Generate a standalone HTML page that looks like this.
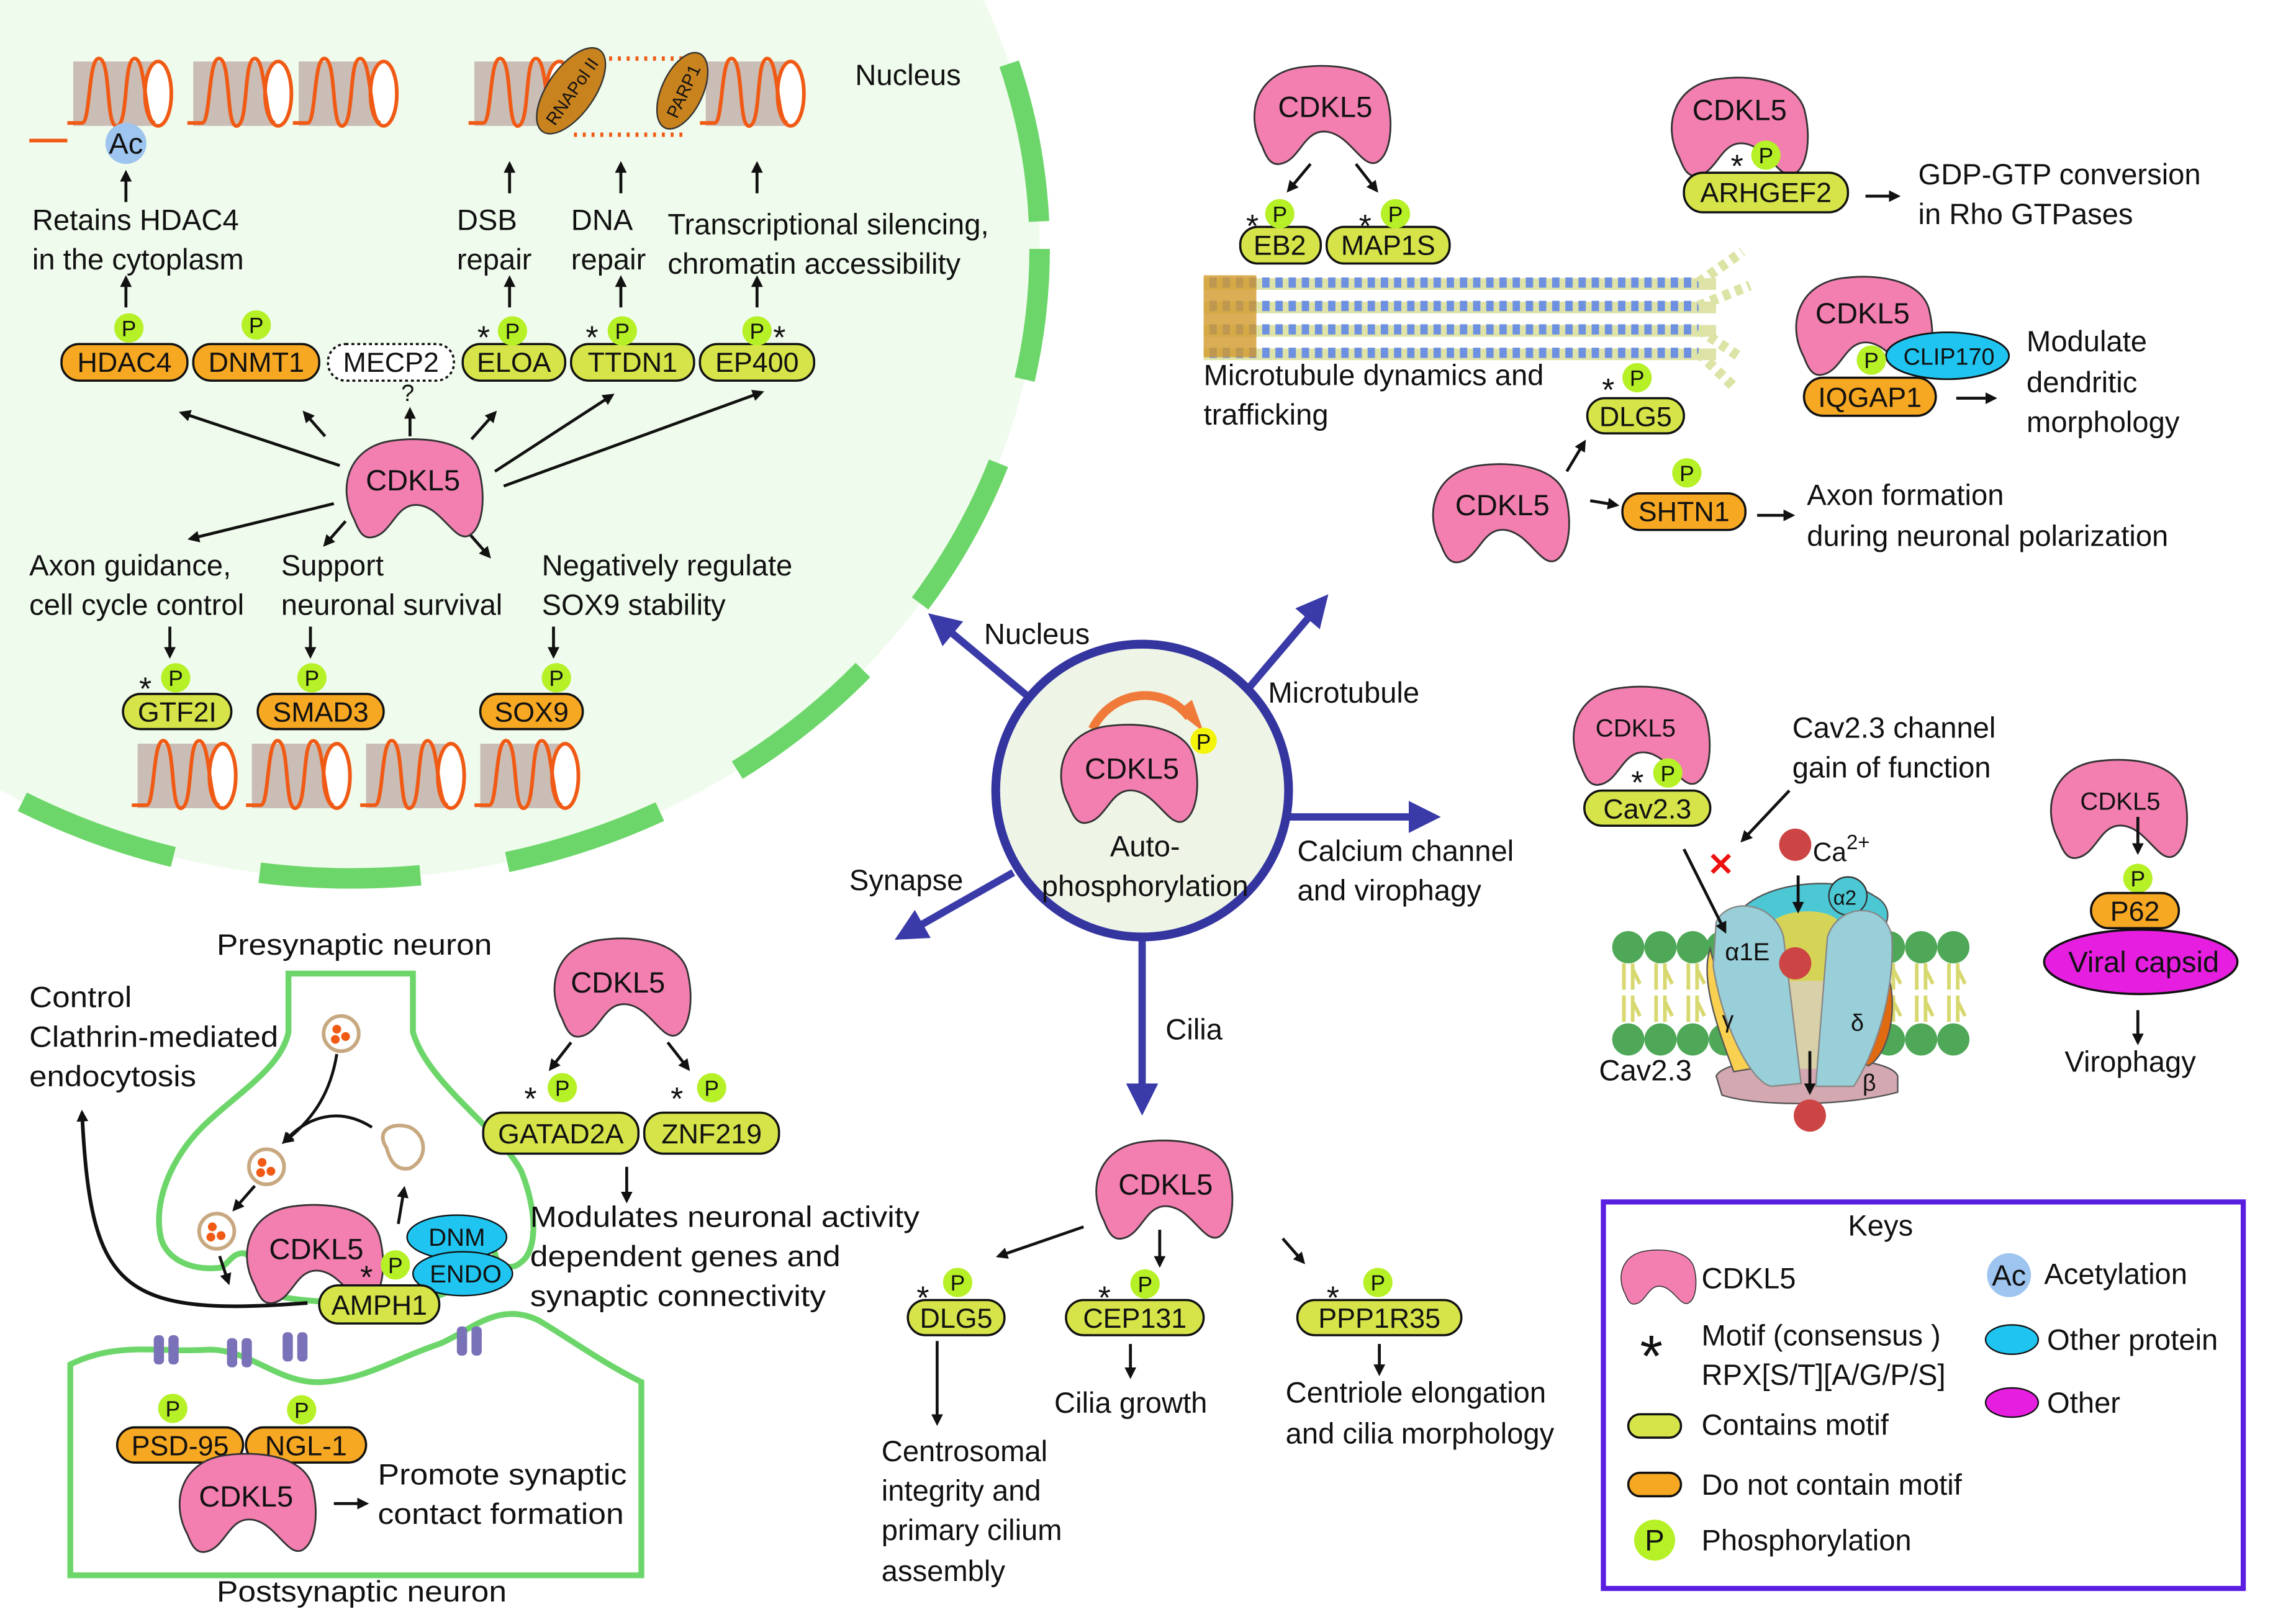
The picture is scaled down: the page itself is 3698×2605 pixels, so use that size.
<!DOCTYPE html>
<html><head><meta charset="utf-8">
<style>
html,body{margin:0;padding:0;background:#fff;}
svg{display:block;}
text{font-family:"Liberation Sans",Arial,sans-serif;fill:#111;}
.t{font-size:20px;}
.pl{font-size:19px;}
.pt{font-size:15px;}
</style></head>
<body>
<svg width="3698" height="2605" viewBox="0 0 1568 1104.5" preserveAspectRatio="none" xmlns="http://www.w3.org/2000/svg">
<defs>
<marker id="ah" markerWidth="8" markerHeight="8" refX="6" refY="4" orient="auto" markerUnits="userSpaceOnUse"><path d="M0,0 L8,4 L0,8 Z" fill="#111"/></marker>
<marker id="bh" markerWidth="22" markerHeight="22" refX="14" refY="11" orient="auto" markerUnits="userSpaceOnUse"><path d="M0,0 L22,11 L0,22 Z" fill="#3a3aa8"/></marker>
<path id="blob" d="M-40,22 C-52,0 -44,-28 -14,-32 C8,-35 38,-32 45,-12 C50,6 48,28 38,33 C28,37 20,14 4,12 C-12,10 -14,32 -28,34 C-34,35 -37,30 -40,22Z" fill="#f27fb0" stroke="#333" stroke-width="1.2"/>
<g id="nuc">
<rect x="4" y="6" width="58" height="44" fill="#c9bdb6"/>
<ellipse cx="62" cy="28" rx="9" ry="22" fill="#fff" stroke="#f05a14" stroke-width="2.5"/>
<path d="M0,48 L10,48 C16,48 14,2 22,4 C30,6 26,52 34,50 C42,48 38,4 46,4 C54,4 52,48 60,48" fill="none" stroke="#f05a14" stroke-width="2.5"/>
</g>
<g id="P"><circle r="10" fill="#b6f026"/><text x="0" y="5.5" text-anchor="middle" class="pt">P</text></g>
<g id="lip"><path d="M-3,0 v18 M3,0 v18 M3,4 l5,10" stroke="#d8d870" stroke-width="2.5" fill="none"/></g>
</defs>

<!-- Nucleus -->
<ellipse cx="240" cy="170" rx="470" ry="430" fill="#effbec"/>
<ellipse cx="240" cy="170" rx="470" ry="430" fill="none" stroke="#6dd66a" stroke-width="14" stroke-dasharray="110 60" stroke-dashoffset="20"/>
<text x="584" y="58" class="t">Nucleus</text>

<use href="#nuc" x="46" y="36"/><use href="#nuc" x="128" y="36"/><use href="#nuc" x="200" y="36"/>
<path d="M20,96 L46,96" stroke="#f05a14" stroke-width="2.5"/>
<use href="#nuc" x="320" y="36"/><use href="#nuc" x="478" y="36"/>
<path d="M392,40 L470,40 M392,92 L470,92" stroke="#f05a14" stroke-width="3" stroke-dasharray="2 4"/>
<g transform="translate(390,62) rotate(-55)"><ellipse rx="34" ry="16" fill="#c8821e" stroke="#333"/><text x="0" y="5" text-anchor="middle" style="font-size:12px">RNAPol II</text></g>
<g transform="translate(466,62) rotate(-65)"><ellipse rx="28" ry="14" fill="#c8821e" stroke="#333"/><text x="0" y="5" text-anchor="middle" style="font-size:12px">PARP1</text></g>
<circle cx="86" cy="98" r="14" fill="#9ec5f0"/><text x="86" y="105" text-anchor="middle" class="t">Ac</text>

<g stroke="#111" stroke-width="2" marker-end="url(#ah)">
<line x1="86" y1="138" x2="86" y2="118"/>
<line x1="86" y1="210" x2="86" y2="190"/>
<line x1="348" y1="132" x2="348" y2="112"/>
<line x1="424" y1="132" x2="424" y2="112"/>
<line x1="517" y1="132" x2="517" y2="112"/>
<line x1="348" y1="210" x2="348" y2="190"/>
<line x1="424" y1="210" x2="424" y2="190"/>
<line x1="517" y1="210" x2="517" y2="190"/>
<line x1="280" y1="298" x2="280" y2="280"/>
<line x1="232" y1="318" x2="124" y2="282"/>
<line x1="222" y1="298" x2="208" y2="282"/>
<line x1="322" y1="300" x2="338" y2="282"/>
<line x1="338" y1="322" x2="418" y2="270"/>
<line x1="344" y1="332" x2="520" y2="268"/>
<line x1="228" y1="344" x2="130" y2="368"/>
<line x1="236" y1="356" x2="222" y2="372"/>
<line x1="320" y1="364" x2="334" y2="380"/>
<line x1="116" y1="428" x2="116" y2="448"/>
<line x1="212" y1="428" x2="212" y2="448"/>
<line x1="378" y1="428" x2="378" y2="448"/>
</g>
<text x="22" y="157" class="t">Retains HDAC4</text><text x="22" y="184" class="t">in the cytoplasm</text>
<text x="312" y="157" class="t">DSB</text><text x="312" y="184" class="t">repair</text>
<text x="390" y="157" class="t">DNA</text><text x="390" y="184" class="t">repair</text>
<text x="456" y="160" class="t">Transcriptional silencing,</text><text x="456" y="187" class="t">chromatin accessibility</text>

<rect x="42" y="235" width="86" height="25" rx="12" fill="#f7a823" stroke="#111" stroke-width="1.5"/><text x="85" y="254" text-anchor="middle" class="pl">HDAC4</text>
<rect x="132" y="235" width="86" height="25" rx="12" fill="#f7a823" stroke="#111" stroke-width="1.5"/><text x="175" y="254" text-anchor="middle" class="pl">DNMT1</text>
<rect x="224" y="235" width="86" height="25" rx="12" fill="#fff" stroke="#111" stroke-width="1.5" stroke-dasharray="2 2"/><text x="267" y="254" text-anchor="middle" class="pl">MECP2</text>
<rect x="316" y="235" width="70" height="25" rx="12" fill="#d6e44a" stroke="#111" stroke-width="1.5"/><text x="351" y="254" text-anchor="middle" class="pl">ELOA</text>
<rect x="390" y="235" width="84" height="25" rx="12" fill="#d6e44a" stroke="#111" stroke-width="1.5"/><text x="432" y="254" text-anchor="middle" class="pl">TTDN1</text>
<rect x="478" y="235" width="78" height="25" rx="12" fill="#d6e44a" stroke="#111" stroke-width="1.5"/><text x="517" y="254" text-anchor="middle" class="pl">EP400</text>
<use href="#P" x="88" y="224"/><use href="#P" x="175" y="222"/><use href="#P" x="350" y="226"/><use href="#P" x="425" y="226"/><use href="#P" x="517" y="226"/>
<text x="326" y="238" style="font-size:22px">*</text><text x="400" y="238" style="font-size:22px">*</text><text x="528" y="238" style="font-size:22px">*</text>
<text x="274" y="274" style="font-size:16px">?</text>
<use href="#blob" x="282" y="333"/><text x="282" y="335" text-anchor="middle" class="t">CDKL5</text>

<text x="20" y="393" class="t">Axon guidance,</text><text x="20" y="420" class="t">cell cycle control</text>
<text x="192" y="393" class="t">Support</text><text x="192" y="420" class="t">neuronal survival</text>
<text x="370" y="393" class="t">Negatively regulate</text><text x="370" y="420" class="t">SOX9 stability</text>
<rect x="84" y="474" width="74" height="24" rx="12" fill="#d6e44a" stroke="#111" stroke-width="1.5"/><text x="121" y="493" text-anchor="middle" class="pl">GTF2I</text>
<rect x="176" y="474" width="86" height="24" rx="12" fill="#f7a823" stroke="#111" stroke-width="1.5"/><text x="219" y="493" text-anchor="middle" class="pl">SMAD3</text>
<rect x="328" y="474" width="70" height="24" rx="12" fill="#f7a823" stroke="#111" stroke-width="1.5"/><text x="363" y="493" text-anchor="middle" class="pl">SOX9</text>
<use href="#P" x="120" y="463"/><use href="#P" x="213" y="463"/><use href="#P" x="380" y="463"/><text x="95" y="478" style="font-size:22px">*</text>
<use href="#nuc" x="90" y="502"/><use href="#nuc" x="168" y="502"/><use href="#nuc" x="246" y="502"/><use href="#nuc" x="324" y="502"/>

<!-- Center -->
<g stroke="#3a3aa8" stroke-width="5" marker-end="url(#bh)">
<line x1="712" y1="484" x2="640" y2="424"/>
<line x1="846" y1="478" x2="902" y2="412"/>
<line x1="880" y1="558" x2="976" y2="558"/>
<line x1="692" y1="596" x2="618" y2="638"/>
<line x1="780" y1="640" x2="780" y2="754"/>
</g>
<circle cx="780" cy="540" r="100" fill="#eef5e6" stroke="#3535a0" stroke-width="6"/>
<path d="M746,498 C760,470 796,468 812,490" fill="none" stroke="#f07a3a" stroke-width="6"/>
<path d="M804,486 L822,500 L814,478Z" fill="#f07a3a"/>
<use href="#blob" x="770" y="528"/><text x="773" y="532" text-anchor="middle" class="t">CDKL5</text>
<circle cx="822" cy="506" r="9" fill="#f4f40a"/><text x="822" y="512" text-anchor="middle" class="pt">P</text>
<text x="782" y="585" text-anchor="middle" class="t">Auto-</text><text x="782" y="612" text-anchor="middle" class="t">phosphorylation</text>
<text x="672" y="440" class="t">Nucleus</text><text x="866" y="480" class="t">Microtubule</text>
<text x="886" y="588" class="t">Calcium channel</text><text x="886" y="615" class="t">and virophagy</text>
<text x="580" y="608" class="t">Synapse</text><text x="796" y="710" class="t">Cilia</text>

<!-- Microtubule -->
<path d="M822,190 h350 v8 h-350z M822,206 h350 v8 h-350z M822,222 h350 v8 h-350z M822,238 h350 v8 h-350z" fill="#dfe3a8"/>
<g stroke-dasharray="5 4" stroke-width="7" fill="none">
<path d="M826,193 H1160 M826,209 H1160 M826,225 H1160 M826,241 H1160" stroke="#6d90e0"/>
<path d="M1160,193 L1190,172 M1160,209 L1195,195 M1160,225 L1190,245 M1160,241 L1185,265" stroke="#dde3a5"/>
</g>
<rect x="822" y="188" width="36" height="56" fill="#d29a2c" opacity="0.8"/>
<use href="#blob" x="902" y="78"/><text x="905" y="80" text-anchor="middle" class="t">CDKL5</text>
<g stroke="#111" stroke-width="2" marker-end="url(#ah)">
<line x1="895" y1="112" x2="880" y2="130"/><line x1="926" y1="112" x2="940" y2="130"/>
<line x1="1274" y1="134" x2="1296" y2="134"/>
<line x1="1070" y1="322" x2="1082" y2="302"/>
<line x1="1086" y1="342" x2="1104" y2="345"/>
<line x1="1200" y1="352" x2="1224" y2="352"/>
<line x1="1336" y1="272" x2="1362" y2="272"/>
</g>
<rect x="847" y="155" width="55" height="25" rx="12" fill="#d6e44a" stroke="#111" stroke-width="1.5"/><text x="874" y="174" text-anchor="middle" class="pl">EB2</text>
<rect x="906" y="155" width="84" height="25" rx="12" fill="#d6e44a" stroke="#111" stroke-width="1.5"/><text x="948" y="174" text-anchor="middle" class="pl">MAP1S</text>
<use href="#P" x="874" y="146"/><use href="#P" x="953" y="146"/><text x="851" y="162" style="font-size:22px">*</text><text x="928" y="162" style="font-size:22px">*</text>
<text x="822" y="263" class="t">Microtubule dynamics and</text><text x="822" y="290" class="t">trafficking</text>
<rect x="1084" y="272" width="66" height="24" rx="12" fill="#d6e44a" stroke="#111" stroke-width="1.5"/><text x="1117" y="291" text-anchor="middle" class="pl">DLG5</text>
<use href="#P" x="1118" y="258"/><text x="1094" y="274" style="font-size:22px">*</text>
<use href="#blob" x="1024" y="350"/><text x="1026" y="352" text-anchor="middle" class="t">CDKL5</text>
<rect x="1108" y="337" width="84" height="25" rx="12" fill="#f7a823" stroke="#111" stroke-width="1.5"/><text x="1150" y="356" text-anchor="middle" class="pl">SHTN1</text>
<use href="#P" x="1152" y="323"/>
<text x="1234" y="345" class="t">Axon formation</text><text x="1234" y="373" class="t">during neuronal polarization</text>
<use href="#blob" x="1187" y="86"/><text x="1188" y="82" text-anchor="middle" class="t">CDKL5</text>
<rect x="1150" y="118" width="112" height="27" rx="13" fill="#d6e44a" stroke="#111" stroke-width="1.5"/><text x="1206" y="138" text-anchor="middle" class="pl">ARHGEF2</text>
<use href="#P" x="1206" y="106"/><text x="1182" y="121" style="font-size:22px">*</text>
<text x="1310" y="126" class="t">GDP-GTP conversion</text><text x="1310" y="153" class="t">in Rho GTPases</text>
<use href="#blob" x="1272" y="222"/><text x="1272" y="221" text-anchor="middle" class="t">CDKL5</text>
<ellipse cx="1330" cy="243" rx="42" ry="16" fill="#1fc4f0" stroke="#111" stroke-width="1.2"/><text x="1331" y="249" text-anchor="middle" style="font-size:16px">CLIP170</text>
<rect x="1232" y="258" width="90" height="26" rx="13" fill="#f7a823" stroke="#111" stroke-width="1.5"/><text x="1277" y="278" text-anchor="middle" class="pl">IQGAP1</text>
<use href="#P" x="1278" y="246"/>
<text x="1384" y="240" class="t">Modulate</text><text x="1384" y="268" class="t">dendritic</text><text x="1384" y="295" class="t">morphology</text>

<!-- Calcium -->
<use href="#blob" x="1120" y="502"/><text x="1117" y="503" text-anchor="middle" style="font-size:17px">CDKL5</text>
<rect x="1082" y="540" width="86" height="24" rx="12" fill="#d6e44a" stroke="#111" stroke-width="1.5"/><text x="1125" y="559" text-anchor="middle" class="pl">Cav2.3</text>
<use href="#P" x="1139" y="528"/><text x="1114" y="542" style="font-size:22px">*</text>
<text x="1224" y="504" class="t">Cav2.3 channel</text><text x="1224" y="531" class="t">gain of function</text>
<circle cx="1226" cy="577" r="11" fill="#cc4444"/><text x="1238" y="588" style="font-size:18px">Ca</text><text x="1261" y="580" style="font-size:14px">2+</text>
<g fill="#4fa858">
<circle cx="1112" cy="647" r="11"/><circle cx="1134" cy="647" r="11"/><circle cx="1156" cy="647" r="11"/><circle cx="1176" cy="647" r="11"/>
<circle cx="1290" cy="647" r="11"/><circle cx="1312" cy="647" r="11"/><circle cx="1334" cy="647" r="11"/>
<circle cx="1112" cy="710" r="11"/><circle cx="1134" cy="710" r="11"/><circle cx="1156" cy="710" r="11"/><circle cx="1178" cy="710" r="11"/>
<circle cx="1290" cy="710" r="11"/><circle cx="1312" cy="710" r="11"/><circle cx="1334" cy="710" r="11"/>
</g>
<use href="#lip" x="1112" y="658"/><use href="#lip" x="1134" y="658"/><use href="#lip" x="1156" y="658"/>
<use href="#lip" x="1290" y="658"/><use href="#lip" x="1312" y="658"/><use href="#lip" x="1334" y="658"/>
<use href="#lip" x="1112" y="680"/><use href="#lip" x="1134" y="680"/><use href="#lip" x="1156" y="680"/>
<use href="#lip" x="1290" y="680"/><use href="#lip" x="1312" y="680"/><use href="#lip" x="1334" y="680"/>
<path d="M1172,735 C1180,718 1290,718 1296,735 L1296,746 C1260,756 1200,756 1176,748Z" fill="#d4a8b0" stroke="#555"/>
<text x="1272" y="745" style="font-size:16px">β</text>
<path d="M1184,628 C1200,600 1260,598 1280,612 C1296,620 1290,640 1270,642 L1196,642Z" fill="#4cc8d4" stroke="#555"/>
<circle cx="1262" cy="612" r="13" fill="#4cc8d4" stroke="#333"/><text x="1252" y="618" style="font-size:14px">α2</text>
<path d="M1210,630 C1220,620 1250,620 1256,630 L1256,720 L1210,720Z" fill="#d6d456"/>
<path d="M1214,670 L1252,670 L1250,730 L1216,730Z" fill="#d8d0a8"/>
<path d="M1168,648 C1170,660 1190,710 1196,730 L1184,732 C1176,710 1160,670 1168,648Z" fill="#f9d050" stroke="#555"/>
<path d="M1290,668 C1296,690 1290,720 1276,728 L1268,724 C1270,700 1280,680 1290,668Z" fill="#e06a10" stroke="#555"/>
<path d="M1172,630 C1180,612 1212,616 1218,640 L1230,740 L1210,742 C1196,740 1176,700 1170,660Z" fill="#98cfd8" stroke="#888"/>
<path d="M1248,640 C1256,616 1288,616 1292,640 C1294,680 1280,720 1266,742 L1240,742 Z" fill="#98cfd8" stroke="#888"/>
<circle cx="1226" cy="658" r="11" fill="#cc4444"/><circle cx="1236" cy="762" r="11" fill="#cc4444"/>
<text x="1178" y="656" style="font-size:17px">α1E</text><text x="1176" y="702" style="font-size:16px">γ</text><text x="1264" y="704" style="font-size:16px">δ</text>
<g stroke="#111" stroke-width="2" marker-end="url(#ah)">
<line x1="1222" y1="540" x2="1190" y2="574"/>
<line x1="1150" y1="580" x2="1178" y2="636"/>
<line x1="1228" y1="598" x2="1228" y2="622"/>
<line x1="1236" y1="718" x2="1236" y2="746"/>
</g>
<text x="1166" y="598" style="font-size:22px;fill:#ee1111;font-weight:bold">✕</text>
<text x="1092" y="738" class="t">Cav2.3</text>
<use href="#blob" x="1446" y="552"/><text x="1448" y="553" text-anchor="middle" style="font-size:17px">CDKL5</text>
<line x1="1460" y1="558" x2="1460" y2="582" stroke="#111" stroke-width="2" marker-end="url(#ah)"/>
<use href="#P" x="1460" y="600"/>
<rect x="1428" y="610" width="60" height="24" rx="12" fill="#f7a823" stroke="#111" stroke-width="1.5"/><text x="1458" y="629" text-anchor="middle" class="pl">P62</text>
<ellipse cx="1462" cy="657" rx="66" ry="22" fill="#e51ee0" stroke="#111" stroke-width="1.5"/><text x="1464" y="664" text-anchor="middle" class="t">Viral capsid</text>
<line x1="1460" y1="690" x2="1460" y2="712" stroke="#111" stroke-width="2" marker-end="url(#ah)"/>
<text x="1410" y="732" class="t">Virophagy</text>

<!-- Synapse -->
<text x="148" y="652" class="t" textLength="188" lengthAdjust="spacingAndGlyphs">Presynaptic neuron</text>
<path d="M197,665 L282,665 L282,705 C292,740 340,770 356,800 C368,830 366,855 356,862 C350,868 340,866 338,856 C336,846 326,846 324,856 C322,880 300,890 262,890 C220,890 186,888 178,880 C170,872 176,858 166,856 C158,856 156,864 150,866 C130,868 114,860 110,846 C104,820 118,790 138,770 C160,748 192,730 197,705Z" fill="none" stroke="#6dd66a" stroke-width="4"/>
<path d="M48,932 L48,1076 L438,1076 L438,944 C410,930 390,915 368,902 C340,888 320,910 300,918 C270,928 250,942 220,944 C190,946 170,920 140,922 C110,924 80,916 48,932Z" fill="none" stroke="#6dd66a" stroke-width="4"/>
<g fill="#7a72b8"><rect x="105" y="912" width="7" height="20" rx="3"/><rect x="115" y="912" width="7" height="20" rx="3"/><rect x="155" y="914" width="7" height="20" rx="3"/><rect x="165" y="914" width="7" height="20" rx="3"/><rect x="193" y="910" width="7" height="20" rx="3"/><rect x="203" y="910" width="7" height="20" rx="3"/><rect x="312" y="906" width="7" height="20" rx="3"/><rect x="322" y="906" width="7" height="20" rx="3"/></g>
<text x="20" y="688" class="t" textLength="70" lengthAdjust="spacingAndGlyphs">Control</text><text x="20" y="715" class="t" textLength="170" lengthAdjust="spacingAndGlyphs">Clathrin-mediated</text><text x="20" y="742" class="t" textLength="114" lengthAdjust="spacingAndGlyphs">endocytosis</text>
<g fill="#fff" stroke="#c8a880" stroke-width="2.5"><circle cx="233" cy="706" r="12"/><circle cx="182" cy="797" r="12"/><circle cx="148" cy="841" r="12"/></g>
<g fill="#f05a14"><circle cx="230" cy="703" r="3"/><circle cx="236" cy="708" r="3"/><circle cx="229" cy="710" r="3"/><circle cx="179" cy="794" r="3"/><circle cx="185" cy="800" r="3"/><circle cx="178" cy="801" r="3"/><circle cx="145" cy="838" r="3"/><circle cx="151" cy="844" r="3"/><circle cx="144" cy="845" r="3"/></g>
<path d="M264,784 C256,772 268,766 280,770 C292,776 292,792 280,798 C270,800 266,792 264,784Z" fill="#fff" stroke="#c8a880" stroke-width="2.5"/>
<g stroke="#111" stroke-width="2" fill="none" marker-end="url(#ah)">
<path d="M230,720 C226,745 215,764 194,780"/>
<path d="M254,770 C232,756 210,762 194,780"/>
<path d="M174,810 L160,826"/>
<path d="M150,858 L156,876"/>
<path d="M272,836 L276,812"/>
<path d="M210,890 C80,900 62,880 56,760" stroke-width="2.5"/>
</g>
<ellipse cx="312" cy="845" rx="34" ry="15" fill="#1fc4f0" stroke="#111"/><text x="312" y="851" text-anchor="middle" style="font-size:17px">DNM</text>
<ellipse cx="316" cy="870" rx="34" ry="15" fill="#1fc4f0" stroke="#111"/><text x="318" y="876" text-anchor="middle" style="font-size:17px">ENDO</text>
<use href="#blob" x="214" y="856"/><text x="216" y="860" text-anchor="middle" class="t">CDKL5</text>
<rect x="218" y="878" width="82" height="26" rx="13" fill="#d6e44a" stroke="#111" stroke-width="1.5"/><text x="259" y="898" text-anchor="middle" class="pl">AMPH1</text>
<use href="#P" x="270" y="864"/><text x="246" y="880" style="font-size:22px">*</text>
<use href="#blob" x="424" y="674"/><text x="422" y="678" text-anchor="middle" class="t">CDKL5</text>
<g stroke="#111" stroke-width="2" marker-end="url(#ah)">
<line x1="390" y1="712" x2="376" y2="730"/><line x1="456" y1="712" x2="470" y2="730"/>
<line x1="428" y1="797" x2="428" y2="820"/>
<line x1="228" y1="1027" x2="250" y2="1027"/>
</g>
<rect x="330" y="760" width="106" height="28" rx="13" fill="#d6e44a" stroke="#111" stroke-width="1.5"/><text x="383" y="781" text-anchor="middle" class="pl">GATAD2A</text>
<rect x="440" y="760" width="92" height="28" rx="13" fill="#d6e44a" stroke="#111" stroke-width="1.5"/><text x="486" y="781" text-anchor="middle" class="pl">ZNF219</text>
<use href="#P" x="384" y="743"/><use href="#P" x="486" y="743"/><text x="358" y="758" style="font-size:22px">*</text><text x="458" y="758" style="font-size:22px">*</text>
<text x="362" y="838" class="t" textLength="266" lengthAdjust="spacingAndGlyphs">Modulates neuronal activity</text><text x="362" y="865" class="t" textLength="212" lengthAdjust="spacingAndGlyphs">dependent genes and</text><text x="362" y="892" class="t" textLength="202" lengthAdjust="spacingAndGlyphs">synaptic connectivity</text>
<rect x="80" y="975" width="86" height="24" rx="12" fill="#f7a823" stroke="#111" stroke-width="1.5"/><text x="123" y="994" text-anchor="middle" class="pl">PSD-95</text>
<rect x="168" y="975" width="82" height="24" rx="12" fill="#f7a823" stroke="#111" stroke-width="1.5"/><text x="209" y="994" text-anchor="middle" class="pl">NGL-1</text>
<use href="#P" x="118" y="962"/><use href="#P" x="206" y="963"/>
<use href="#blob" x="168" y="1026"/><text x="168" y="1029" text-anchor="middle" class="t">CDKL5</text>
<text x="258" y="1014" class="t" textLength="170" lengthAdjust="spacingAndGlyphs">Promote synaptic</text><text x="258" y="1041" class="t" textLength="168" lengthAdjust="spacingAndGlyphs">contact formation</text>
<text x="148" y="1094" class="t" textLength="198" lengthAdjust="spacingAndGlyphs">Postsynaptic neuron</text>

<!-- Cilia -->
<use href="#blob" x="794" y="812"/><text x="796" y="816" text-anchor="middle" class="t">CDKL5</text>
<g stroke="#111" stroke-width="2" marker-end="url(#ah)">
<line x1="740" y1="838" x2="682" y2="858"/>
<line x1="792" y1="840" x2="792" y2="864"/>
<line x1="876" y1="846" x2="890" y2="862"/>
<line x1="640" y1="916" x2="640" y2="972"/>
<line x1="772" y1="918" x2="772" y2="940"/>
<line x1="942" y1="918" x2="942" y2="938"/>
</g>
<rect x="620" y="888" width="66" height="24" rx="12" fill="#d6e44a" stroke="#111" stroke-width="1.5"/><text x="653" y="907" text-anchor="middle" class="pl">DLG5</text>
<rect x="728" y="888" width="94" height="24" rx="12" fill="#d6e44a" stroke="#111" stroke-width="1.5"/><text x="775" y="907" text-anchor="middle" class="pl">CEP131</text>
<rect x="886" y="888" width="112" height="24" rx="12" fill="#d6e44a" stroke="#111" stroke-width="1.5"/><text x="942" y="907" text-anchor="middle" class="pl">PPP1R35</text>
<use href="#P" x="654" y="876"/><use href="#P" x="782" y="877"/><use href="#P" x="941" y="876"/>
<text x="626" y="894" style="font-size:22px">*</text><text x="750" y="894" style="font-size:22px">*</text><text x="906" y="894" style="font-size:22px">*</text>
<text x="602" y="998" class="t">Centrosomal</text><text x="602" y="1025" class="t">integrity and</text><text x="602" y="1052" class="t">primary cilium</text><text x="602" y="1080" class="t">assembly</text>
<text x="720" y="965" class="t">Cilia growth</text>
<text x="878" y="958" class="t">Centriole elongation</text><text x="878" y="986" class="t">and cilia morphology</text>

<!-- Keys -->
<rect x="1095" y="821" width="437" height="264" fill="#fff" stroke="#5a1ee0" stroke-width="3.5"/>
<text x="1262" y="844" class="t">Keys</text>
<g transform="translate(1132,872) scale(0.55)"><use href="#blob"/></g>
<text x="1162" y="880" class="t">CDKL5</text>
<circle cx="1372" cy="871" r="15" fill="#9ec5f0"/><text x="1372" y="878" text-anchor="middle" class="t">Ac</text>
<text x="1396" y="877" class="t">Acetylation</text>
<text x="1120" y="940" style="font-size:40px">*</text>
<text x="1162" y="919" class="t">Motif (consensus )</text><text x="1162" y="946" class="t">RPX[S/T][A/G/P/S]</text>
<ellipse cx="1374" cy="915" rx="18" ry="10" fill="#1fc4f0" stroke="#111"/><text x="1398" y="922" class="t">Other protein</text>
<ellipse cx="1374" cy="958" rx="18" ry="10" fill="#e51ee0" stroke="#111"/><text x="1398" y="965" class="t">Other</text>
<rect x="1112" y="966" width="36" height="16" rx="8" fill="#d6e44a" stroke="#111" stroke-width="1.5"/><text x="1162" y="980" class="t">Contains motif</text>
<rect x="1112" y="1006" width="36" height="16" rx="8" fill="#f7a823" stroke="#111" stroke-width="1.5"/><text x="1162" y="1021" class="t">Do not contain motif</text>
<circle cx="1130" cy="1052" r="14" fill="#b6f026"/><text x="1130" y="1059" text-anchor="middle" class="t">P</text><text x="1162" y="1059" class="t">Phosphorylation</text>
</svg>
</body></html>
